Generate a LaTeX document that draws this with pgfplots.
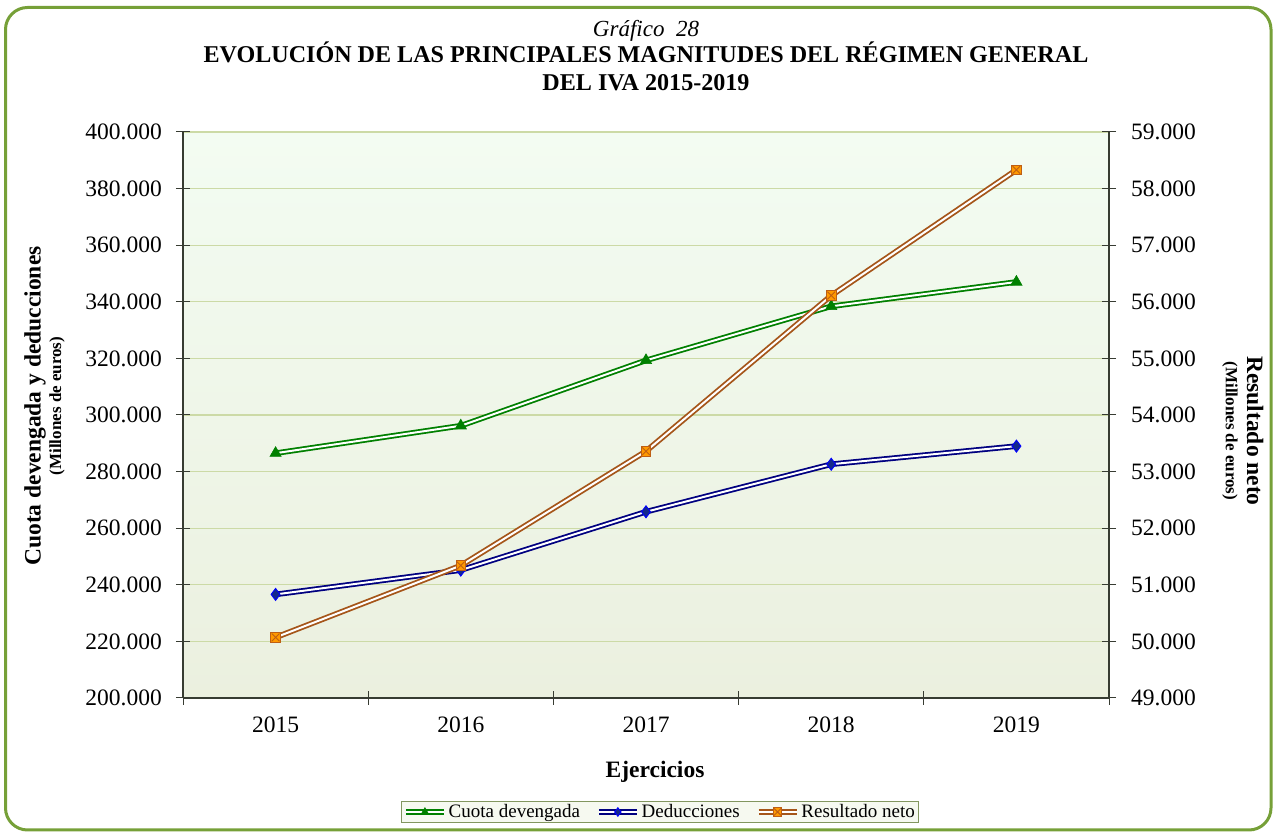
\documentclass[border=0pt]{standalone}
\usepackage{fontspec}
\setmainfont{Liberation Serif}
\usepackage{pgfplots}
\pgfplotsset{compat=1.18}
\definecolor{framec}{RGB}{118,160,56}
\definecolor{gridc}{RGB}{204,218,166}
\definecolor{axisc}{RGB}{55,60,50}
\definecolor{bgtop}{RGB}{243,252,242}
\definecolor{bgbot}{RGB}{235,240,223}
\definecolor{cuotac}{RGB}{0,128,0}
\definecolor{dedc}{RGB}{0,0,128}
\definecolor{dedm}{RGB}{20,40,140}
\definecolor{dedb}{RGB}{0,0,255}
\definecolor{resc}{RGB}{165,85,25}
\definecolor{resm}{RGB}{255,153,0}
\definecolor{resd}{RGB}{190,95,20}
\definecolor{legc}{RGB}{130,150,95}
\definecolor{legbg}{RGB}{246,249,240}
\pgfdeclareplotmark{sqx}{%
  \pgfpathrectangle{\pgfpoint{-\pgfplotmarksize}{-\pgfplotmarksize}}{\pgfpoint{2\pgfplotmarksize}{2\pgfplotmarksize}}%
  \pgfusepathqfillstroke
  \pgfpathmoveto{\pgfpoint{-0.8\pgfplotmarksize}{-0.8\pgfplotmarksize}}%
  \pgfpathlineto{\pgfpoint{0.8\pgfplotmarksize}{0.8\pgfplotmarksize}}%
  \pgfpathmoveto{\pgfpoint{-0.8\pgfplotmarksize}{0.8\pgfplotmarksize}}%
  \pgfpathlineto{\pgfpoint{0.8\pgfplotmarksize}{-0.8\pgfplotmarksize}}%
  \pgfusepathqstroke}
\pgfplotsset{
  base/.style={scale only axis, width=926pt, height=566pt, xmin=-0.5, xmax=4.5,
    at={(183pt,134pt)}, anchor=south west, tick align=center,
    major tick length=14pt, minor tick length=14pt,
    tick style={axisc, line width=1pt},
    tick label style={font=\fontsize{23.5}{26}\selectfont},
    /pgf/number format/assume math mode=true, scaled y ticks=false,
    yticklabel style={/pgf/number format/fixed, /pgf/number format/precision=0, /pgf/number format/1000 sep={.}},
    axis line style={axisc, line width=1.3pt}, clip=false},
  cuota/.style={cuotac, line width=1.8pt, double=white, double distance=2pt,
    mark=triangle*, mark size=6.5pt, mark options={fill=cuotac, draw=cuotac, line width=0.6pt}},
  dedu/.style={dedc, line width=1.8pt, double=white, double distance=2pt,
    mark=diamond*, mark size=6pt, mark options={fill=dedm, draw=dedb, line width=0.9pt}},
  resu/.style={resc, line width=1.8pt, double=white, double distance=2pt,
    mark=sqx, mark size=4.8pt, mark options={fill=resm, draw=resd, line width=0.9pt}},
}
\begin{document}
\begin{tikzpicture}
\useasboundingbox (0pt,0pt) rectangle (1274pt,832pt);
\draw[framec, line width=3pt, rounded corners=22pt] (5.5pt,2pt) rectangle (1271pt,824.5pt);

\begin{axis}[base, axis x line*=bottom, axis y line*=left,
  ymin=200000, ymax=400000, ytick={200000,220000,...,400000},
  ymajorgrids, major grid style={gridc, line width=1.2pt},
  xtick={0,1,2,3,4}, xticklabels={2015,2016,2017,2018,2019},
  major x tick style={draw=none},
  minor xtick={-0.5,0.5,1.5,2.5,3.5,4.5},
  axis background/.style={top color=bgtop, bottom color=bgbot, draw=framec, line width=1pt},
  xticklabel style={anchor=north, inner sep=0pt, yshift=-12pt},
  yticklabel style={anchor=east, inner sep=0pt, xshift=-14pt}]
\addplot[cuota] coordinates {(0,286500) (1,296200) (2,319300) (3,338400) (4,347000)};
\addplot[dedu] coordinates {(0,236600) (1,245200) (2,265800) (3,282600) (4,289000)};
\end{axis}

\begin{axis}[base, axis y line*=right, axis x line=none,
  ymin=49000, ymax=59000, ytick={49000,50000,...,59000},
  yticklabel style={anchor=west, inner sep=0pt, xshift=15pt},
  legend style={at={(axis description cs:0.5151,-0.2014)}, anchor=center,
    legend columns=3, draw=legc, fill=legbg, line width=1pt,
    font=\fontsize{19}{21}\selectfont, inner sep=1.5pt,
    /tikz/every even column/.append style={column sep=14pt}},
  legend cell align=left,
  legend image code/.code={\draw[mark repeat=2,mark phase=2,#1] plot coordinates {(0pt,0pt) (19pt,0pt) (38pt,0pt)};},
  legend image post style={mark size=4.3pt}]
\addlegendimage{cuota}
\addlegendentry{Cuota devengada}
\addlegendimage{dedu}
\addlegendentry{Deducciones}
\addplot[resu] coordinates {(0,50070) (1,51340) (2,53360) (3,56110) (4,58330)};
\addlegendentry{Resultado neto}
\end{axis}

\node[rotate=90, font=\fontsize{23.5}{26}\selectfont\bfseries] at (35pt,426pt) {Cuota devengada y deducciones};
\node[rotate=90, font=\fontsize{17}{19}\selectfont\bfseries] at (57pt,426pt) {(Millones de euros)};
\node[rotate=-90, font=\fontsize{23.5}{26}\selectfont\bfseries] at (1255pt,401pt) {Resultado neto};
\node[rotate=-90, font=\fontsize{17}{19}\selectfont\bfseries] at (1230pt,401pt) {(Millones de euros)};
\node[anchor=base, font=\fontsize{23}{26}\selectfont\itshape] at (646pt,795pt) {Gráfico~~28};
\node[anchor=base, font=\fontsize{24.1}{26}\selectfont\bfseries] at (646pt,769pt) {EVOLUCIÓN DE LAS PRINCIPALES MAGNITUDES DEL RÉGIMEN GENERAL};
\node[anchor=base, font=\fontsize{24.1}{26}\selectfont\bfseries] at (646pt,741pt) {DEL IVA 2015-2019};
\node[anchor=base, font=\fontsize{23.5}{26}\selectfont\bfseries] at (655pt,54pt) {Ejercicios};
\end{tikzpicture}
\end{document}
